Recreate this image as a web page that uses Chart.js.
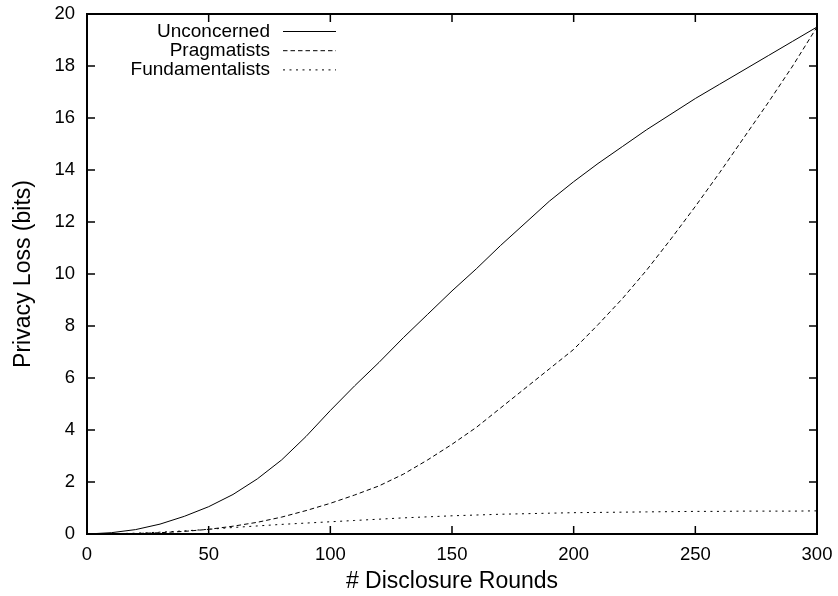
<!DOCTYPE html>
<html>
<head>
<meta charset="utf-8">
<script src="https://cdn.jsdelivr.net/npm/chart.js@4/dist/chart.umd.min.js"></script>
<style>
  html, body { margin: 0; padding: 0; background: #fff; }
  #wrap { width: 838px; height: 596px; }
</style>
</head>
<body>
<div id="wrap"><canvas id="lossChart" width="838" height="596"></canvas></div>
<script>
// Data (every 10 rounds)
const rounds = [0, 10, 20, 30, 40, 50, 60, 70, 80, 90, 100, 110, 120, 130, 140, 150,
                160, 170, 180, 190, 200, 210, 220, 230, 240, 250, 260, 270, 280, 290, 300];
const unconcerned = [0, 0.05, 0.17, 0.38, 0.68, 1.05, 1.52, 2.12, 2.85, 3.75, 4.75, 5.7, 6.6, 7.55, 8.45, 9.35,
                     10.2, 11.1, 11.95, 12.8, 13.55, 14.25, 14.9, 15.55, 16.15, 16.75, 17.3, 17.85, 18.4, 18.95, 19.5];
const pragmatists = [0, 0, 0.02, 0.05, 0.1, 0.18, 0.3, 0.45, 0.65, 0.9, 1.18, 1.5, 1.85, 2.3, 2.85, 3.45,
                     4.1, 4.85, 5.6, 6.35, 7.1, 8.05, 9.05, 10.15, 11.35, 12.6, 13.9, 15.25, 16.6, 18.0, 19.5];
const fundamentalists = [0, 0.01, 0.03, 0.07, 0.12, 0.18, 0.25, 0.31, 0.37, 0.42, 0.47, 0.52, 0.57, 0.62, 0.66, 0.7,
                         0.73, 0.76, 0.78, 0.8, 0.82, 0.83, 0.84, 0.85, 0.86, 0.87, 0.87, 0.88, 0.88, 0.88, 0.89];
const xTicks = [0, 50, 100, 150, 200, 250, 300];
const yTicks = [0, 2, 4, 6, 8, 10, 12, 14, 16, 18, 20];

const FONT = 'Liberation Sans, Arial, Helvetica, sans-serif';

function toPoints(vals) {
    return rounds.map((r, i) => ({ x: r, y: vals[i] }));
}

// frame, inward ticks on all four sides, and gnuplot style key
const gnuplotFrame = {
    id: 'gnuplotFrame',
    afterDatasetsDraw(chart) {
        const ctx = chart.ctx;
        const a = chart.chartArea;
        const xs = chart.scales.x, ys = chart.scales.y;
        const tl = 8;
        ctx.save();
        ctx.strokeStyle = '#000';
        ctx.lineWidth = 1.5;
        ctx.beginPath();
        xTicks.forEach(v => {
            const px = xs.getPixelForValue(v);
            ctx.moveTo(px, a.bottom); ctx.lineTo(px, a.bottom - tl);
            ctx.moveTo(px, a.top); ctx.lineTo(px, a.top + tl);
        });
        yTicks.forEach(v => {
            const py = ys.getPixelForValue(v);
            ctx.moveTo(a.left, py); ctx.lineTo(a.left + tl, py);
            ctx.moveTo(a.right, py); ctx.lineTo(a.right - tl, py);
        });
        ctx.stroke();
        ctx.lineWidth = 2;
        ctx.strokeRect(a.left, a.top, a.right - a.left, a.bottom - a.top);

        // key, text right aligned with sample line after it
        ctx.font = '19px ' + FONT;
        ctx.fillStyle = '#000';
        ctx.textAlign = 'right';
        ctx.textBaseline = 'middle';
        chart.data.datasets.forEach((ds, i) => {
            const y = 31.5 + i * 19.2;
            ctx.fillText(ds.label, 270, y);
            ctx.lineWidth = 1;
            ctx.setLineDash(ds.borderDash || []);
            ctx.beginPath();
            ctx.moveTo(283, y);
            ctx.lineTo(336, y);
            ctx.stroke();
            ctx.setLineDash([]);
        });
        ctx.restore();
    }
};

// keep the plot box fixed, ignore label overhang
function noPad(s) {
    s.paddingLeft = 0; s.paddingRight = 0; s.paddingTop = 0; s.paddingBottom = 0;
}

const ctx = document.getElementById('lossChart').getContext('2d');
new Chart(ctx, {
    type: 'line',
    data: {
        datasets: [
            { label: 'Unconcerned', data: toPoints(unconcerned), borderDash: [] },
            { label: 'Pragmatists', data: toPoints(pragmatists), borderDash: [4.5, 3] },
            { label: 'Fundamentalists', data: toPoints(fundamentalists), borderDash: [2, 4.5] }
        ].map(ds => Object.assign(ds, {
            borderColor: '#000',
            borderWidth: 1,
            pointRadius: 0,
            tension: 0,
            fill: false
        }))
    },
    options: {
        responsive: false,
        animation: false,
        layout: { padding: { left: 0, top: 14, right: 21, bottom: 0 } },
        plugins: {
            legend: { display: false },
            tooltip: { enabled: false }
        },
        scales: {
            x: {
                type: 'linear',
                min: 0,
                max: 300,
                afterBuildTicks: s => { s.ticks = xTicks.map(v => ({ value: v })); },
                afterFit: s => { s.height = 62; noPad(s); },
                grid: { display: false, drawTicks: false },
                border: { display: false },
                ticks: { color: '#000', padding: 10, maxRotation: 0, font: { family: FONT, size: 18.5 } },
                title: {
                    display: true,
                    text: '# Disclosure Rounds',
                    color: '#000',
                    font: { family: FONT, size: 23 },
                    padding: { top: 0, bottom: 1 }
                }
            },
            y: {
                type: 'linear',
                min: 0,
                max: 20,
                afterBuildTicks: s => { s.ticks = yTicks.map(v => ({ value: v })); },
                afterFit: s => { s.width = 87; noPad(s); },
                grid: { display: false, drawTicks: false },
                border: { display: false },
                ticks: { color: '#000', padding: 12, font: { family: FONT, size: 18.5 } },
                title: {
                    display: true,
                    text: 'Privacy Loss (bits)',
                    color: '#000',
                    font: { family: FONT, size: 23 },
                    padding: { top: 9.5, bottom: 0 }
                }
            }
        }
    },
    plugins: [gnuplotFrame]
});
</script>
</body>
</html>
